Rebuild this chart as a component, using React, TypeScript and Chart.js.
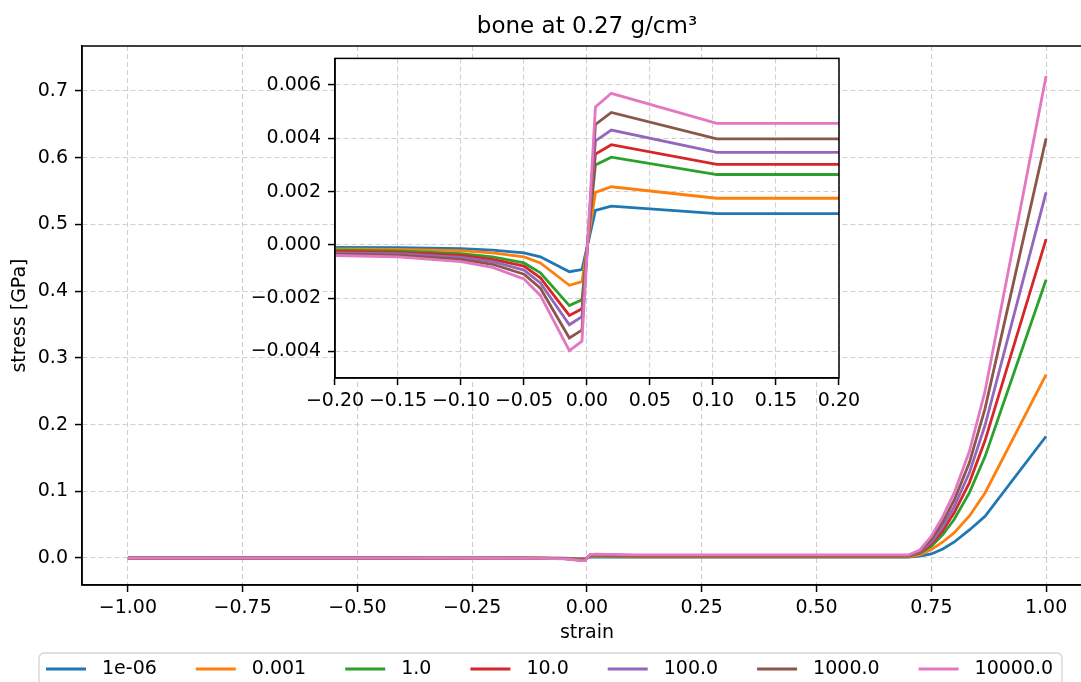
import React, { useEffect, useRef } from "react";
import { Chart, registerables } from "chart.js";

Chart.register(...registerables);

// ---------- data ----------
const strain = [-1.0, -0.75, -0.5, -0.3, -0.2, -0.15, -0.1, -0.075, -0.05, -0.037, -0.014, -0.004, 0.0067, 0.0193, 0.103, 0.7, 0.725, 0.75, 0.775, 0.8, 0.833, 0.867, 1.0];

const rate_1e06 = [-0.00004, -0.00005, -0.00006, -0.00008, -0.0001, -0.00011, -0.00014, -0.0002, -0.0003, -0.00045, -0.00101, -0.00093, 0.00129, 0.00145, 0.00117, 0.00117, 0.0028, 0.006, 0.0135, 0.024, 0.042, 0.0625, 0.1825];
const rate_0001 = [-0.00006, -0.00008, -0.0001, -0.00013, -0.00015, -0.00017, -0.00022, -0.0003, -0.00045, -0.00068, -0.00152, -0.00138, 0.00197, 0.00218, 0.00175, 0.00175, 0.0045, 0.0125, 0.024, 0.038, 0.063, 0.0975, 0.275];
const rate_1 = [-0.00008, -0.0001, -0.00013, -0.00017, -0.0002, -0.00023, -0.00033, -0.00045, -0.00068, -0.00105, -0.00228, -0.00206, 0.003, 0.00329, 0.00264, 0.00264, 0.007, 0.0175, 0.035, 0.058, 0.098, 0.152, 0.417];
const rate_10 = [-0.0001, -0.00012, -0.00016, -0.00021, -0.00025, -0.00028, -0.0004, -0.00055, -0.0008, -0.00124, -0.00265, -0.0024, 0.00341, 0.00376, 0.00302, 0.00302, 0.008, 0.021, 0.041, 0.068, 0.113, 0.176, 0.478];
const rate_100 = [-0.00012, -0.00015, -0.00019, -0.00025, -0.0003, -0.00033, -0.00047, -0.00063, -0.00095, -0.00143, -0.003, -0.0027, 0.0039, 0.00431, 0.00347, 0.00347, 0.009, 0.024, 0.047, 0.077, 0.128, 0.199, 0.548];
const rate_1000 = [-0.00014, -0.00018, -0.00022, -0.00029, -0.00035, -0.00039, -0.00055, -0.00073, -0.0011, -0.00163, -0.0035, -0.0032, 0.00452, 0.00497, 0.00398, 0.00398, 0.0105, 0.028, 0.054, 0.087, 0.143, 0.224, 0.629];
const rate_10000 = [-0.00016, -0.0002, -0.00025, -0.00033, -0.0004, -0.00045, -0.00063, -0.00085, -0.00128, -0.0019, -0.00397, -0.00362, 0.00518, 0.00569, 0.00456, 0.00456, 0.012, 0.0325, 0.062, 0.098, 0.16, 0.25, 0.7226];

const seriesValues = [rate_1e06, rate_0001, rate_1, rate_10, rate_100, rate_1000, rate_10000];
const seriesLabels = ["1e-06", "0.001", "1.0", "10.0", "100.0", "1000.0", "10000.0"];
const seriesColors = ["#1f77b4", "#ff7f0e", "#2ca02c", "#d62728", "#9467bd", "#8c564b", "#e377c2"];

const mainXTicks = [-1.0, -0.75, -0.5, -0.25, 0.0, 0.25, 0.5, 0.75, 1.0];
const mainYTicks = [0.0, 0.1, 0.2, 0.3, 0.4, 0.5, 0.6, 0.7];
const insetXTicks = [-0.2, -0.15, -0.1, -0.05, 0.0, 0.05, 0.1, 0.15, 0.2];
const insetYTicks = [-0.004, -0.002, 0.0, 0.002, 0.004, 0.006];

const titleText = "bone at 0.27 g/cm³";
const xLabelText = "strain";
const yLabelText = "stress [GPa]";

// ---------- styling ----------
const FAMILY = "'DejaVu Sans', 'Liberation Sans', sans-serif";
const TICK_SIZE = 19;
const GRID_COLOR = "#cfcfcf";

const fmt = (v: number, d: number) => {
  const s = Math.abs(v).toFixed(d);
  return (v < -1e-12 ? "\u2212" : "") + s;
};

function buildDatasets() {
  return seriesValues.map((vals, i) => ({
    label: seriesLabels[i],
    data: strain.map((x, j) => ({ x, y: vals[j] })),
    borderColor: seriesColors[i],
    backgroundColor: seriesColors[i],
    borderWidth: 2.8,
    pointRadius: 0,
    tension: 0,
    fill: false,
    order: seriesValues.length - i,
  }));
}

function axis(
  kind: "x" | "y",
  min: number,
  max: number,
  ticks: number[],
  digits: number,
  size: number
) {
  return {
    type: "linear" as const,
    position: kind === "x" ? "bottom" : "left",
    min,
    max,
    afterBuildTicks: (s: any) => {
      s.ticks = ticks.map((v) => ({ value: v }));
    },
    afterFit: (s: any) => {
      if (kind === "x") s.height = size;
      else s.width = size;
    },
    ticks: {
      callback: (v: any) => fmt(Number(v), digits),
      font: { family: FAMILY, size: TICK_SIZE },
      color: "#000",
      padding: kind === "x" ? 5 : 7,
      autoSkip: false,
      maxRotation: 0,
      minRotation: 0,
    },
    grid: {
      display: true,
      color: GRID_COLOR,
      lineWidth: 1.1,
      drawTicks: true,
      tickLength: 7,
      tickWidth: 1.5,
      tickColor: "#000",
      tickBorderDash: [],
    },
    border: { display: true, color: "#000", width: 1.5, dash: [5, 3] },
  };
}

const framePlugin = {
  id: "frame",
  beforeDraw(chart: any, _a: any, opts: any) {
    if (!opts || !opts.fillWhite) return;
    const { ctx, chartArea: ca } = chart;
    ctx.save();
    ctx.fillStyle = "#ffffff";
    ctx.fillRect(ca.left, ca.top, ca.right - ca.left, ca.bottom - ca.top);
    ctx.restore();
  },
  afterDatasetsDraw(chart: any) {
    const { ctx, chartArea: ca } = chart;
    ctx.save();
    ctx.strokeStyle = "#000";
    ctx.lineWidth = 1.5;
    ctx.strokeRect(ca.left, ca.top, ca.right - ca.left, ca.bottom - ca.top);
    ctx.restore();
  },
};

const decorPlugin = {
  id: "decor",
  afterDraw(chart: any) {
    const { ctx, chartArea: ca } = chart;
    const cx = (ca.left + ca.right) / 2;
    ctx.save();
    ctx.fillStyle = "#000";
    ctx.textAlign = "center";
    ctx.textBaseline = "middle";
    // title
    ctx.font = `23px ${FAMILY}`;
    ctx.fillText(titleText, cx, ca.top - 19);
    // x label
    ctx.font = `${TICK_SIZE}px ${FAMILY}`;
    ctx.fillText(xLabelText, cx, ca.bottom + 48);
    // y label
    ctx.save();
    ctx.translate(20, (ca.top + ca.bottom) / 2);
    ctx.rotate(-Math.PI / 2);
    ctx.fillText(yLabelText, 0, 0);
    ctx.restore();

    // legend
    const boxL = 39, boxT = 653, boxW = 1023, boxH = 36;
    ctx.strokeStyle = "#d6d6d6";
    ctx.lineWidth = 1.4;
    ctx.fillStyle = "rgba(255,255,255,0.8)";
    ctx.beginPath();
    (ctx as any).roundRect(boxL, boxT, boxW, boxH, 5);
    ctx.fill();
    ctx.stroke();
    ctx.font = `${TICK_SIZE}px ${FAMILY}`;
    ctx.textAlign = "left";
    ctx.textBaseline = "middle";
    const rowY = 669;
    let x = 46;
    const handle = 40, pad = 16, colSpace = 39;
    chart.data.datasets.forEach((ds: any) => {
      ctx.strokeStyle = ds.borderColor;
      ctx.lineWidth = 2.8;
      ctx.lineCap = "butt";
      ctx.beginPath();
      ctx.moveTo(x, rowY);
      ctx.lineTo(x + handle, rowY);
      ctx.stroke();
      ctx.fillStyle = "#000";
      const tx = x + handle + pad;
      ctx.fillText(ds.label, tx, rowY);
      x = tx + ctx.measureText(ds.label).width + colSpace;
    });
    ctx.restore();
  },
};

export default function App() {
  const mainRef = useRef<HTMLCanvasElement | null>(null);
  const insetRef = useRef<HTMLCanvasElement | null>(null);

  useEffect(() => {
    document.documentElement.style.overflow = "hidden";
    document.body.style.overflow = "hidden";
    document.body.style.margin = "0";

    const main = new Chart(mainRef.current as HTMLCanvasElement, {
      type: "line",
      data: { datasets: buildDatasets() as any },
      options: {
        responsive: false,
        animation: false,
        devicePixelRatio: 1,
        parsing: false,
        layout: { padding: { left: 0, right: 8, top: 46, bottom: 0 } },
        plugins: {
          legend: { display: false },
          title: { display: false },
          tooltip: { enabled: false },
          frame: {},
        } as any,
        scales: {
          x: axis("x", -1.1, 1.1, mainXTicks, 2, 97) as any,
          y: axis("y", -0.0405, 0.7675, mainYTicks, 1, 82) as any,
        },
      },
      plugins: [framePlugin, decorPlugin],
    });

    const inset = new Chart(insetRef.current as HTMLCanvasElement, {
      type: "line",
      data: { datasets: buildDatasets() as any },
      options: {
        responsive: false,
        animation: false,
        devicePixelRatio: 1,
        parsing: false,
        layout: { padding: { left: 0, right: 61, top: 16, bottom: 0 } },
        plugins: {
          legend: { display: false },
          title: { display: false },
          tooltip: { enabled: false },
          frame: { fillWhite: true },
        } as any,
        scales: {
          x: axis("x", -0.2, 0.2, insetXTicks, 2, 42) as any,
          y: axis("y", -0.005, 0.007, insetYTicks, 3, 95) as any,
        },
      },
      plugins: [framePlugin],
    });

    return () => {
      main.destroy();
      inset.destroy();
    };
  }, []);

  return (
    <div
      style={{
        position: "fixed",
        left: 0,
        top: 0,
        width: 1100,
        height: 682,
        overflow: "hidden",
        background: "#fff",
      }}
    >
      <canvas
        ref={mainRef}
        width={1100}
        height={682}
        style={{ position: "absolute", left: 0, top: 0, width: 1100, height: 682 }}
      />
      <canvas
        ref={insetRef}
        width={660}
        height={380}
        style={{ position: "absolute", left: 240, top: 40, width: 660, height: 380 }}
      />
    </div>
  );
}
